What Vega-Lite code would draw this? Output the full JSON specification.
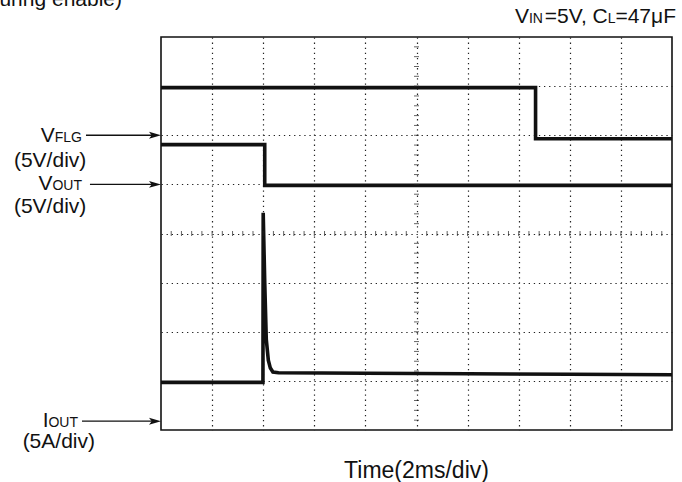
{
  "$schema": "https://vega.github.io/schema/vega-lite/v6.json",
  "width": 511,
  "height": 393,
  "autosize": {"type": "none"},
  "padding": {"left": 161, "top": 37, "right": 10, "bottom": 52},
  "background": "white",
  "config": {
    "view": {"stroke": "#111", "strokeWidth": 1.6},
    "font": "Liberation Sans",
    "text": {"font": "Liberation Sans", "color": "#111"}
  },
  "datasets": {
    "traces": [
      {"series": "VFLG", "i": 0, "t": 0, "v": 6.97},
      {"series": "VFLG", "i": 1, "t": 7.33, "v": 6.97},
      {"series": "VFLG", "i": 2, "t": 7.33, "v": 5.93},
      {"series": "VFLG", "i": 3, "t": 10, "v": 5.93},
      {"series": "VOUT", "i": 0, "t": 0, "v": 5.81},
      {"series": "VOUT", "i": 1, "t": 2.03, "v": 5.81},
      {"series": "VOUT", "i": 2, "t": 2.03, "v": 4.98},
      {"series": "VOUT", "i": 3, "t": 10, "v": 4.98},
      {"series": "IOUT", "i": 0, "t": 0, "v": 0.97},
      {"series": "IOUT", "i": 1, "t": 1.995, "v": 0.97},
      {"series": "IOUT", "i": 2, "t": 2.0, "v": 4.42},
      {"series": "IOUT", "i": 3, "t": 2.03, "v": 3.0},
      {"series": "IOUT", "i": 4, "t": 2.06, "v": 1.85},
      {"series": "IOUT", "i": 5, "t": 2.1, "v": 1.42},
      {"series": "IOUT", "i": 6, "t": 2.14, "v": 1.26},
      {"series": "IOUT", "i": 7, "t": 2.19, "v": 1.18},
      {"series": "IOUT", "i": 8, "t": 2.3, "v": 1.165},
      {"series": "IOUT", "i": 9, "t": 4, "v": 1.155},
      {"series": "IOUT", "i": 10, "t": 6, "v": 1.145},
      {"series": "IOUT", "i": 11, "t": 8, "v": 1.135},
      {"series": "IOUT", "i": 12, "t": 10, "v": 1.125}
    ],
    "hticks": [
      {"p": 0.2}, {"p": 0.4}, {"p": 0.6}, {"p": 0.8}, {"p": 1.0},
      {"p": 1.2}, {"p": 1.4}, {"p": 1.6}, {"p": 1.8}, {"p": 2.0},
      {"p": 2.2}, {"p": 2.4}, {"p": 2.6}, {"p": 2.8}, {"p": 3.0},
      {"p": 3.2}, {"p": 3.4}, {"p": 3.6}, {"p": 3.8}, {"p": 4.0},
      {"p": 4.2}, {"p": 4.4}, {"p": 4.6}, {"p": 4.8},
      {"p": 5.2}, {"p": 5.4}, {"p": 5.6}, {"p": 5.8}, {"p": 6.0},
      {"p": 6.2}, {"p": 6.4}, {"p": 6.6}, {"p": 6.8}, {"p": 7.0},
      {"p": 7.2}, {"p": 7.4}, {"p": 7.6}, {"p": 7.8}, {"p": 8.0},
      {"p": 8.2}, {"p": 8.4}, {"p": 8.6}, {"p": 8.8}, {"p": 9.0},
      {"p": 9.2}, {"p": 9.4}, {"p": 9.6}, {"p": 9.8}
    ],
    "vticks": [
      {"p": 0.2}, {"p": 0.4}, {"p": 0.6}, {"p": 0.8}, {"p": 1.0},
      {"p": 1.2}, {"p": 1.4}, {"p": 1.6}, {"p": 1.8}, {"p": 2.0},
      {"p": 2.2}, {"p": 2.4}, {"p": 2.6}, {"p": 2.8}, {"p": 3.0},
      {"p": 3.2}, {"p": 3.4}, {"p": 3.6}, {"p": 3.8},
      {"p": 4.2}, {"p": 4.4}, {"p": 4.6}, {"p": 4.8}, {"p": 5.0},
      {"p": 5.2}, {"p": 5.4}, {"p": 5.6}, {"p": 5.8}, {"p": 6.0},
      {"p": 6.2}, {"p": 6.4}, {"p": 6.6}, {"p": 6.8}, {"p": 7.0},
      {"p": 7.2}, {"p": 7.4}, {"p": 7.6}, {"p": 7.8}
    ],
    "arrows": [
      {"label": "VFLG", "xs": -1.468, "y": 6.0},
      {"label": "VOUT", "xs": -1.39, "y": 5.0},
      {"label": "IOUT", "xs": -1.546, "y": 0.18}
    ],
    "bigRight": [
      {"x": -2.078, "y": 5.86, "s": "V"},
      {"x": -2.125, "y": 4.885, "s": "V"},
      {"x": -2.2, "y": 0.061, "s": "I"},
      {"x": 7.2, "y": 8.285, "s": "V"},
      {"x": 8.742, "y": 8.285, "s": "=5V, C"},
      {"x": 10.078, "y": 8.285, "s": "=47μF"},
      {"x": -0.763, "y": 8.63, "s": "(during enable)"}
    ],
    "smallRight": [
      {"x": -1.546, "y": 5.86, "s": "FLG"},
      {"x": -1.546, "y": 4.885, "s": "OUT"},
      {"x": -1.624, "y": 0.061, "s": "OUT"},
      {"x": 7.474, "y": 8.285, "s": "IN"},
      {"x": 8.894, "y": 8.285, "s": "L"}
    ],
    "center": [
      {"x": -2.17, "y": 5.35, "s": "(5V/div)"},
      {"x": -2.17, "y": 4.417, "s": "(5V/div)"},
      {"x": -2.0, "y": -0.366, "s": "(5A/div)"}
    ],
    "xtitle": [
      {"x": 5.0, "y": -0.977, "s": "Time(2ms/div)"}
    ]
  },
  "layer": [
    {
      "data": {"name": "traces"},
      "mark": {"type": "line", "strokeWidth": 3.6, "color": "#111", "strokeCap": "butt", "strokeJoin": "miter"},
      "encoding": {
        "x": {"field": "t", "type": "quantitative", "title": null,
          "scale": {"domain": [0, 10], "nice": false, "zero": false},
          "axis": {"grid": true, "values": [1, 2, 3, 4, 5, 6, 7, 8, 9], "labels": false, "ticks": false, "domain": false, "gridColor": "#222", "gridDash": [1.3, 3.8], "gridWidth": 1.2}},
        "y": {"field": "v", "type": "quantitative", "title": null,
          "scale": {"domain": [0, 8], "nice": false, "zero": false},
          "axis": {"grid": true, "values": [1, 2, 3, 4, 5, 6, 7], "labels": false, "ticks": false, "domain": false, "gridColor": "#222", "gridDash": [1.3, 3.8], "gridWidth": 1.2}},
        "detail": {"field": "series"},
        "order": {"field": "i", "type": "quantitative"}
      }
    },
    {
      "data": {"name": "hticks"},
      "mark": {"type": "tick", "orient": "vertical", "size": 5, "thickness": 1, "color": "#222"},
      "encoding": {
        "x": {"field": "p", "type": "quantitative", "title": null},
        "y": {"datum": 4, "type": "quantitative"}
      }
    },
    {
      "data": {"name": "vticks"},
      "mark": {"type": "tick", "orient": "horizontal", "size": 5, "thickness": 1, "color": "#222"},
      "encoding": {
        "y": {"field": "p", "type": "quantitative", "title": null},
        "x": {"datum": 5, "type": "quantitative"}
      }
    },
    {
      "data": {"name": "arrows"},
      "mark": {"type": "rule", "strokeWidth": 1.4, "color": "#111", "clip": false},
      "encoding": {
        "x": {"field": "xs", "type": "quantitative", "title": null},
        "x2": {"datum": -0.1},
        "y": {"field": "y", "type": "quantitative", "title": null}
      }
    },
    {
      "data": {"name": "arrows"},
      "mark": {"type": "point", "shape": "M1,0L-1,-0.58L-0.55,0L-1,0.58Z", "size": 144, "filled": true, "opacity": 1, "color": "#111", "xOffset": -6, "clip": false},
      "encoding": {
        "x": {"datum": 0, "type": "quantitative"},
        "y": {"field": "y", "type": "quantitative", "title": null}
      }
    },
    {
      "data": {"name": "bigRight"},
      "mark": {"type": "text", "align": "right", "baseline": "alphabetic", "fontSize": 21, "clip": false},
      "encoding": {
        "x": {"field": "x", "type": "quantitative", "title": null},
        "y": {"field": "y", "type": "quantitative", "title": null},
        "text": {"field": "s"}
      }
    },
    {
      "data": {"name": "smallRight"},
      "mark": {"type": "text", "align": "right", "baseline": "alphabetic", "fontSize": 14, "clip": false},
      "encoding": {
        "x": {"field": "x", "type": "quantitative", "title": null},
        "y": {"field": "y", "type": "quantitative", "title": null},
        "text": {"field": "s"}
      }
    },
    {
      "data": {"name": "center"},
      "mark": {"type": "text", "align": "center", "baseline": "alphabetic", "fontSize": 21, "clip": false},
      "encoding": {
        "x": {"field": "x", "type": "quantitative", "title": null},
        "y": {"field": "y", "type": "quantitative", "title": null},
        "text": {"field": "s"}
      }
    },
    {
      "data": {"name": "xtitle"},
      "mark": {"type": "text", "align": "center", "baseline": "alphabetic", "fontSize": 23, "clip": false},
      "encoding": {
        "x": {"field": "x", "type": "quantitative", "title": null},
        "y": {"field": "y", "type": "quantitative", "title": null},
        "text": {"field": "s"}
      }
    }
  ]
}
